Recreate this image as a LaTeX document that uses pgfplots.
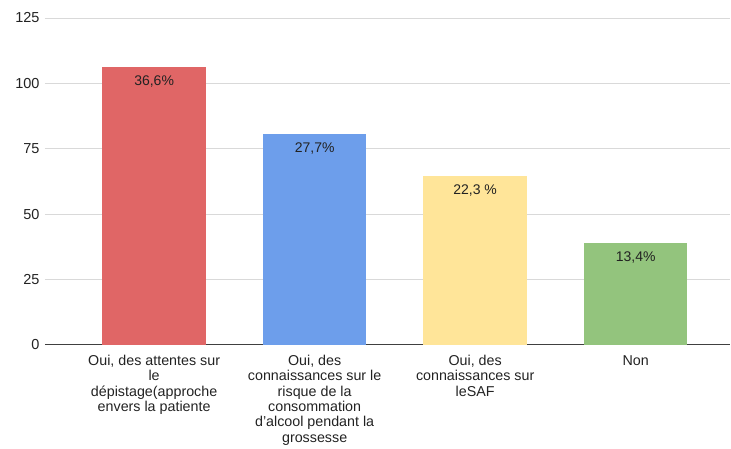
\documentclass[border=0pt]{standalone}
\usepackage{pgfplots}
\pgfplotsset{compat=1.18}
\usepackage{fontspec}
\setmainfont{Liberation Sans}
\definecolor{cred}{HTML}{E06666}
\definecolor{cblue}{HTML}{6D9EEB}
\definecolor{cyellow}{HTML}{FFE599}
\definecolor{cgreen}{HTML}{93C47D}
\definecolor{gridc}{HTML}{D9D9D9}
\definecolor{txt}{HTML}{222222}
\begin{document}
\begin{tikzpicture}
\begin{axis}[
  scale only axis,
  width=686bp, height=327bp,
  xmin=-0.68, xmax=3.59,
  ymin=0, ymax=125,
  ytick={25,50,75,100,125},
  extra y ticks={0},
  extra y tick style={grid style={draw=black!75, line width=1.2pt}},
  ymajorgrids,
  grid style={gridc, line width=0.9pt},
  axis line style={draw=none},
  major tick length=0pt,
  xtick={0,1,2,3},
  xticklabels={
    {Oui, des attentes sur\\le\\dépistage(approche\\envers la patiente},
    {Oui, des\\connaissances sur le\\risque de la\\consommation\\d'alcool pendant la\\grossesse},
    {Oui, des\\connaissances sur\\leSAF},
    {Non}},
  xticklabel style={align=center, anchor=north, font=\fontsize{14.3bp}{15.3bp}\selectfont, text=txt, yshift=-7bp},
  yticklabel style={font=\fontsize{14.5bp}{16bp}\selectfont, text=txt, xshift=-2bp},
  /pgf/number format/assume math mode=true,
  ybar, bar width=103.5bp, bar shift=0pt,
  point meta=explicit symbolic,
  nodes near coords,
  nodes near coords style={anchor=north, font=\fontsize{14bp}{15bp}\selectfont, text=txt, yshift=-5bp},
  clip=false,
]
\addplot[fill=cred, draw=none] coordinates {(0,106.3) [36,6\%]};
\addplot[fill=cblue, draw=none] coordinates {(1,80.5) [27,7\%]};
\addplot[fill=cyellow, draw=none] coordinates {(2,64.5) [22,3 \%]};
\addplot[fill=cgreen, draw=none] coordinates {(3,39) [13,4\%]};
\end{axis}
\path ([xshift=-45bp,yshift=-103bp]current axis.south west) rectangle ([yshift=18bp]current axis.north east);
\end{tikzpicture}
\end{document}
